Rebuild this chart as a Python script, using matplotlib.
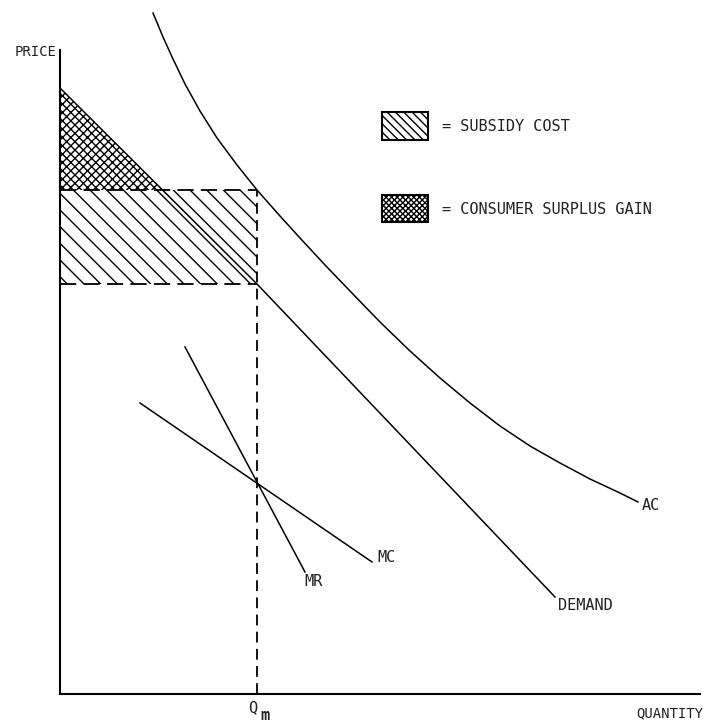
import numpy as np
import matplotlib
matplotlib.use('Agg')
import matplotlib.pyplot as plt

# curves (quantity, price in arbitrary units)
ac_q = [93, 103, 113, 125, 140, 157, 177, 197, 220, 240, 265, 290, 320,
        350, 380, 410, 440, 470, 500, 530, 560, 578]
ac_p = [681, 657, 635, 610, 583, 556, 529, 504, 478, 456, 429, 403, 372,
        343, 316, 291, 268, 248, 231, 215, 201, 192]
demand_q = [0, 197, 495]
demand_p = [606, 410, 97]
mr_q = [125, 245]
mr_p = [347, 122]
mc_q = [80, 312]
mc_p = [291, 132]
qm = 197
p_ac = 504       # average cost at Qm
p_dem = 410      # demand price at Qm

plt.rcParams['font.family'] = 'DejaVu Sans Mono'
plt.rcParams['hatch.linewidth'] = 1.0

fig = plt.figure(figsize=(7.04, 7.22), dpi=100)
ax = fig.add_axes([60/704, 28/722, 640/704, 644/722])
ax.set_xlim(0, 640)
ax.set_ylim(0, 644)
for s in ['top', 'right']:
    ax.spines[s].set_visible(False)
for s in ['left', 'bottom']:
    ax.spines[s].set_linewidth(1.5)
ax.set_xticks([])
ax.set_yticks([])

lw = 1.1
ax.plot(ac_q, ac_p, color='black', lw=lw, clip_on=False)
ax.plot(demand_q, demand_p, color='black', lw=lw)
ax.plot(mr_q, mr_p, color='black', lw=lw)
ax.plot(mc_q, mc_p, color='black', lw=lw)

# where demand crosses the AC price line
q_cross = np.interp(p_ac, demand_p[::-1], demand_q[::-1])

# subsidy cost rectangle
ax.fill([0, qm, qm, 0], [p_dem, p_dem, p_ac, p_ac], facecolor='none',
        edgecolor='black', linewidth=0, hatch='\\\\')
# consumer surplus gain triangle
ax.fill([0, q_cross, 0], [p_ac, p_ac, demand_p[0]], facecolor='none',
        edgecolor='black', linewidth=0, hatch='xxxx')

ax.plot([0, qm], [p_ac, p_ac], color='black', lw=1.3, ls=(0, (9, 4)))
ax.plot([0, qm], [p_dem, p_dem], color='black', lw=1.3, ls=(0, (9, 4)))
ax.plot([qm, qm], [0, p_ac], color='black', lw=1.3, ls=(0, (6, 3.5)))

# legend boxes
ax.fill([322, 368, 368, 322], [554, 554, 582, 582], facecolor='white',
        edgecolor='black', linewidth=1.5, hatch='\\\\\\\\')
ax.fill([322, 368, 368, 322], [472, 472, 499, 499], facecolor='white',
        edgecolor='black', linewidth=1.5, hatch='xxxxxx')

fs = 11
tc = '#222222'
ax.text(382, 568, '= SUBSIDY COST', fontsize=fs, color=tc, va='center')
ax.text(382, 485, '= CONSUMER SURPLUS GAIN', fontsize=fs, color=tc, va='center')

ax.text(-3, 642, 'PRICE', fontsize=10, color=tc, ha='right', va='center', clip_on=False)
ax.text(643, -19, 'QUANTITY', fontsize=10, color=tc, ha='right', va='center', clip_on=False)
ax.text(qm - 4, -14, 'Q', fontsize=fs, color=tc, ha='center', va='center', clip_on=False)
ax.text(qm + 8, -21, 'm', fontsize=fs, color=tc, fontweight='bold', ha='center', va='center', clip_on=False)

ax.text(ac_q[-1] + 4, ac_p[-1] - 3, 'AC', fontsize=fs, color=tc, va='center')
ax.text(demand_q[-1] + 3, demand_p[-1] - 8, 'DEMAND', fontsize=fs, color=tc, va='center')
ax.text(mr_q[-1] - 1, mr_p[-1] - 10, 'MR', fontsize=fs, color=tc, va='center')
ax.text(mc_q[-1] + 5, mc_p[-1] + 5, 'MC', fontsize=fs, color=tc, va='center')

plt.savefig('out.png')
